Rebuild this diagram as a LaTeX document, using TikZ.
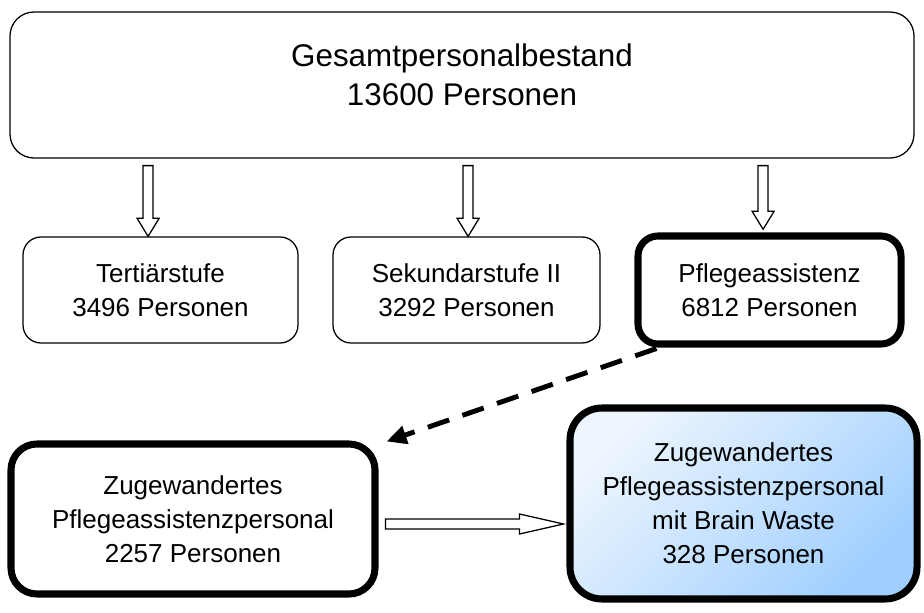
\documentclass[tikz,border=0pt]{standalone}
\usepackage{fontspec}
\setmainfont{Liberation Sans}
\usetikzlibrary{calc,arrows.meta}
\definecolor{shadelight}{HTML}{EDF5FE}
\definecolor{shadedark}{HTML}{A0CFFF}
\def\blockarrow[#1](#2)(#3)(#4:#5:#6){\coordinate (bh) at ($(#3)!#6!(#2)$);
	\draw[#1] ($(#2)!#4!90:(#3)$) -- ($(bh)!#4!90:(#3)$) -- ($(bh)!#5!90:(#3)$) -- (#3) -- ($(bh)!#5!-90:(#3)$) -- ($(bh)!#4!-90:(#3)$) -- ($(#2)!#4!-90:(#3)$) -- cycle;}
\tikzset{
	box/.style={draw, line width=0.9pt, align=center, inner sep=0pt, font=\fontsize{18.5}{24.2}\selectfont},
	thickbox/.style={box, line width=5pt},
	hollow/.style={draw, fill=white, line width=0.9pt, line join=miter},
	dashedarrow/.style={line width=3.5pt, dash pattern=on 16pt off 10pt, -{Triangle[length=0.5cm, width=0.45cm]}}
}

\begin{document}
\begin{tikzpicture}
		%%%%% START %%%%%
		\useasboundingbox (0, 0) rectangle (23.1, 15.3);
		
		\node[box, rounded corners=0.6cm, minimum width=22.6cm, minimum height=3.65cm, text depth=0.535cm, font=\fontsize{22.3}{27.7}\selectfont] (gesamt) at (11.55, 13.175) {Gesamtpersonalbestand\\13600 Personen};
		
		\node[box, rounded corners=0.45cm, minimum width=6.875cm, minimum height=2.65cm] (tert) at (4.0125, 8.05) {Terti\"arstufe\\3496 Personen};
		\node[box, rounded corners=0.45cm, minimum width=6.675cm, minimum height=2.65cm] (sek) at (11.6625, 8.05) {Sekundarstufe II\\3292 Personen};
		\node[thickbox, rounded corners=0.5cm, minimum width=6.575cm, minimum height=2.7cm] (pflege) at (19.2375, 8.05) {Pflegeassistenz\\6812 Personen};
		
		\node[thickbox, rounded corners=0.65cm, minimum width=9.1cm, minimum height=3.75cm] (zug) at (4.825, 2.325) {Zugewandertes\\Pflegeassistenzpersonal\\2257 Personen};
		\node[thickbox, rounded corners=0.8cm, minimum width=8.675cm, minimum height=4.775cm, top color=shadelight, bottom color=shadedark, shading angle=45] (brain) at (18.5875, 2.7125) {Zugewandertes\\Pflegeassistenzpersonal\\mit Brain Waste\\328 Personen};
		
		\foreach \n/\dx/\dy in {tert/-0.31/0, sek/0.04/0, pflege/-0.16/0.08} {
			\coordinate (\n-from) at ($(gesamt.south -| \n.north)+(\dx, -0.175)$);
			\coordinate (\n-to) at ($(\n.north)+(\dx, \dy)$);
			\blockarrow[hollow](\n-from)(\n-to)(0.125cm:0.275cm:0.45cm)
		}
		
		\draw[dashedarrow] ($(pflege.south west)+(0.55, -0.025)$) -- ($(zug.north east)+(0.2, -0.025)$);
		
		\coordinate (zug-from) at ($(zug.east)+(0.175, -0.125)$);
		\coordinate (zug-to) at ($(brain.west |- zug-from)+(-0.075, 0)$);
		\blockarrow[hollow](zug-from)(zug-to)(0.125cm:0.25cm:1.1cm)
		
		%%%%% END %%%%%
	\end{tikzpicture}
\end{document}
